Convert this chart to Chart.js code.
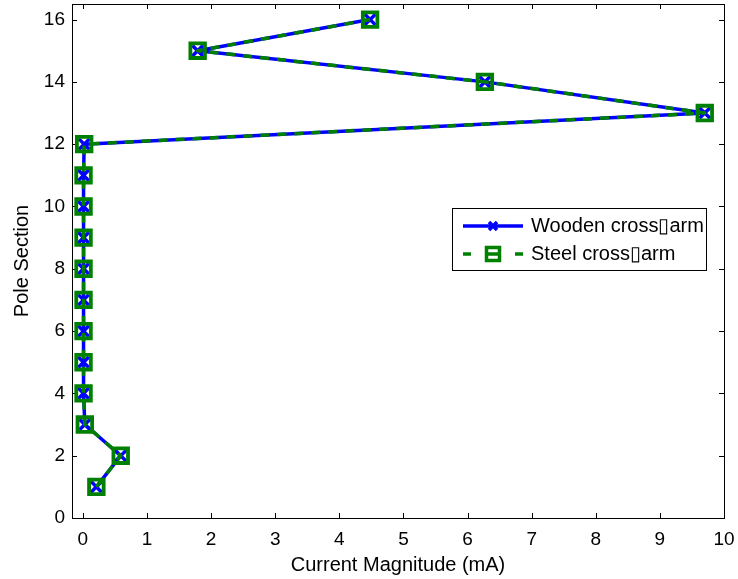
<!DOCTYPE html>
<html>
<head>
<meta charset="utf-8">
<script src="https://cdn.jsdelivr.net/npm/chart.js@4.4.0/dist/chart.umd.min.js"></script>
<style>
  html, body { margin: 0; padding: 0; background: #fff; }
  #wrap { width: 738px; height: 579px; }
</style>
</head>
<body>
<div id="wrap"><canvas id="c" width="738" height="579"></canvas></div>
<script>
const poleSections = [1, 2, 3, 4, 5, 6, 7, 8, 9, 10, 11, 12, 13, 14, 15, 16];
const woodenCurrent = [0.21, 0.59, 0.03, 0.01, 0.01, 0.01, 0.01, 0.01, 0.01, 0.01, 0.01, 0.02, 9.70, 6.27, 1.79, 4.48];
const steelCurrent  = [0.21, 0.59, 0.03, 0.01, 0.01, 0.01, 0.01, 0.01, 0.01, 0.01, 0.01, 0.02, 9.70, 6.27, 1.79, 4.48];
const seriesNames = ['Wooden cross\u25AFarm', 'Steel cross\u25AFarm'];
const xTickValues = [0, 1, 2, 3, 4, 5, 6, 7, 8, 9, 10];
const yTickValues = [0, 2, 4, 6, 8, 10, 12, 14, 16];
const xTitle = 'Current Magnitude (mA)';
const yTitle = 'Pole Section';

const FONT = '"Liberation Sans", Arial, sans-serif';
const BLUE = '#0000ff';
const GREEN = '#008000';

const toPts = (xs) => xs.map((v, i) => ({ x: v, y: poleSections[i] }));

const zeroPad = (s) => { s.paddingTop = 0; s.paddingBottom = 0; s.paddingLeft = 0; s.paddingRight = 0; };

const boxTicksPlugin = {
  id: 'boxTicks',
  beforeDatasetsDraw(chart) {
    const { ctx, chartArea: a, scales } = chart;
    ctx.save();
    ctx.strokeStyle = '#000';
    ctx.lineWidth = 1;
    ctx.beginPath();
    const tl = 5;
    xTickValues.forEach(v => {
      const px = Math.round(scales.x.getPixelForValue(v)) + 0.5;
      ctx.moveTo(px, a.bottom); ctx.lineTo(px, a.bottom - tl);
      ctx.moveTo(px, a.top); ctx.lineTo(px, a.top + tl);
    });
    yTickValues.forEach(v => {
      const py = Math.round(scales.y.getPixelForValue(v)) + 0.5;
      ctx.moveTo(a.left, py); ctx.lineTo(a.left + tl, py);
      ctx.moveTo(a.right, py); ctx.lineTo(a.right - tl, py);
    });
    ctx.stroke();
    ctx.strokeRect(Math.round(a.left) + 0.5, Math.round(a.top) + 0.5,
                   Math.round(a.right - a.left), Math.round(a.bottom - a.top));
    ctx.restore();
  },
  afterDraw(chart) {
    const { ctx } = chart;
    ctx.save();
    const bx = 452.5, by = 208.5, bw = 254, bh = 62;
    ctx.fillStyle = '#fff';
    ctx.fillRect(bx, by, bw, bh);
    ctx.strokeStyle = '#000';
    ctx.lineWidth = 1;
    ctx.strokeRect(bx, by, bw, bh);
    const x0 = 463, x1 = 523, xm = 493;
    const y1 = 226, y2 = 254;
    ctx.strokeStyle = BLUE;
    ctx.lineWidth = 3.5;
    ctx.beginPath(); ctx.moveTo(x0, y1); ctx.lineTo(x1, y1); ctx.stroke();
    const d = 4;
    ctx.beginPath();
    ctx.moveTo(xm - d, y1 - d); ctx.lineTo(xm + d, y1 + d);
    ctx.moveTo(xm - d, y1 + d); ctx.lineTo(xm + d, y1 - d);
    ctx.stroke();
    ctx.strokeStyle = GREEN;
    ctx.lineWidth = 3.5;
    ctx.beginPath();
    ctx.moveTo(x0, y2); ctx.lineTo(x0 + 8, y2);
    ctx.moveTo(x1 - 8, y2); ctx.lineTo(x1, y2);
    ctx.moveTo(xm - 6, y2); ctx.lineTo(xm + 6, y2);
    ctx.stroke();
    ctx.lineWidth = 3.5;
    ctx.strokeRect(xm - 6.5, y2 - 6.5, 13, 13);
    ctx.fillStyle = '#000';
    ctx.font = '20px ' + FONT;
    ctx.textBaseline = 'middle';
    ctx.textAlign = 'left';
    ctx.fillText(seriesNames[0], 531, y1);
    ctx.fillText(seriesNames[1], 531, y2);
    ctx.restore();
  }
};

new Chart(document.getElementById('c'), {
  type: 'scatter',
  data: {
    datasets: [
      {
        label: seriesNames[0],
        data: toPts(woodenCurrent),
        showLine: true,
        borderColor: BLUE,
        backgroundColor: BLUE,
        borderWidth: 3.5,
        borderJoinStyle: 'round',
        pointStyle: 'crossRot',
        pointRadius: 7.5,
        pointBorderWidth: 3.5,
        pointBorderColor: BLUE,
        order: 1
      },
      {
        label: seriesNames[1],
        data: toPts(steelCurrent),
        showLine: true,
        borderColor: GREEN,
        backgroundColor: 'rgba(0,0,0,0)',
        borderWidth: 3.5,
        borderJoinStyle: 'round',
        borderDash: [9, 8],
        pointStyle: 'rect',
        pointRadius: 10.3,
        pointBorderWidth: 3.8,
        pointBorderColor: GREEN,
        pointBackgroundColor: 'rgba(0,0,0,0)',
        order: 0
      }
    ]
  },
  options: {
    responsive: false,
    animation: false,
    devicePixelRatio: 1,
    layout: { autoPadding: false, padding: { top: 4, right: 14, left: 0, bottom: 0 } },
    plugins: {
      legend: { display: false },
      tooltip: { enabled: false }
    },
    scales: {
      x: {
        type: 'linear',
        min: -0.17,
        max: 10,
        afterBuildTicks: (s) => { s.ticks = xTickValues.map(v => ({ value: v })); },
        afterFit: (s) => { s.height = 61; zeroPad(s); },
        grid: { display: false, drawTicks: false },
        border: { display: false },
        ticks: {
          font: { family: FONT, size: 19 },
          color: '#000',
          padding: 10,
          maxRotation: 0,
          autoSkip: false
        },
        title: {
          display: true,
          text: xTitle,
          font: { family: FONT, size: 20 },
          color: '#000',
          padding: { top: 0, bottom: 2 }
        }
      },
      y: {
        type: 'linear',
        min: 0,
        max: 16.5,
        afterBuildTicks: (s) => { s.ticks = yTickValues.map(v => ({ value: v })); },
        afterFit: (s) => { s.width = 72; zeroPad(s); },
        grid: { display: false, drawTicks: false },
        border: { display: false },
        ticks: {
          font: { family: FONT, size: 19 },
          color: '#000',
          padding: 7,
          autoSkip: false
        },
        title: {
          display: true,
          text: yTitle,
          font: { family: FONT, size: 20 },
          color: '#000',
          padding: { top: 10, bottom: 0 }
        }
      }
    }
  },
  plugins: [boxTicksPlugin]
});
</script>
</body>
</html>
